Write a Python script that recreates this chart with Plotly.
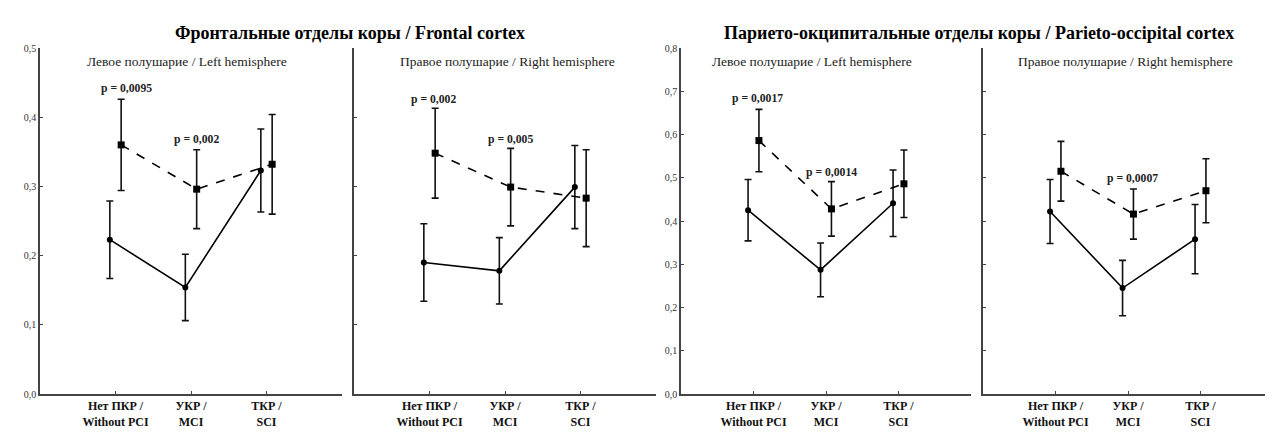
import plotly.graph_objects as go

# ---------------- data ----------------
categories = ["Нет ПКР /<br>Without PCI", "УКР /<br>MCI", "ТКР /<br>SCI"]
cat_pos = [1, 2, 3]

# solid line, circles
frontal_left_solid = [0.223, 0.154, 0.323]
frontal_left_solid_err = [0.056, 0.048, 0.060]
frontal_right_solid = [0.190, 0.178, 0.299]
frontal_right_solid_err = [0.056, 0.048, 0.060]
pariet_left_solid = [0.425, 0.287, 0.441]
pariet_left_solid_err = [0.071, 0.062, 0.077]
pariet_right_solid = [0.422, 0.245, 0.358]
pariet_right_solid_err = [0.074, 0.064, 0.080]

# dashed line, squares
frontal_left_dash = [0.360, 0.296, 0.332]
frontal_left_dash_err = [0.066, 0.057, 0.072]
frontal_right_dash = [0.348, 0.299, 0.283]
frontal_right_dash_err = [0.065, 0.056, 0.070]
pariet_left_dash = [0.586, 0.428, 0.486]
pariet_left_dash_err = [0.072, 0.063, 0.078]
pariet_right_dash = [0.515, 0.416, 0.470]
pariet_right_dash_err = [0.069, 0.058, 0.074]

titles = ["Фронтальные отделы коры / Frontal cortex",
          "Парието-окципитальные отделы коры / Parieto-occipital cortex"]
subtitles = ["Левое полушарие / Left hemisphere", "Правое полушарие / Right hemisphere",
             "Левое полушарие / Left hemisphere", "Правое полушарие / Right hemisphere"]

# p-value labels: (panel, text, x, y)
p_labels = [
    (0, "p = 0,0095", 1.14, 0.441),
    (0, "p = 0,002", 2.07, 0.368),
    (1, "p = 0,002", 1.05, 0.426),
    (1, "p = 0,005", 2.07, 0.368),
    (2, "p = 0,0017", 1.05, 0.683),
    (2, "p = 0,0014", 2.07, 0.513),
    (3, "p = 0,0007", 2.06, 0.498),
]

panels = [
    (frontal_left_solid, frontal_left_solid_err, frontal_left_dash, frontal_left_dash_err, 0.5),
    (frontal_right_solid, frontal_right_solid_err, frontal_right_dash, frontal_right_dash_err, 0.5),
    (pariet_left_solid, pariet_left_solid_err, pariet_left_dash, pariet_left_dash_err, 0.8),
    (pariet_right_solid, pariet_right_solid_err, pariet_right_dash, pariet_right_dash_err, 0.8),
]

# ---------------- layout geometry (page pixels; page body has an 8px margin) ----------------
PAGE_OFF = 8
W, H = 1273 - PAGE_OFF, 437 - PAGE_OFF


def fx(px):
    return (px - PAGE_OFF) / W


def fy(py):
    return 1 - (py - PAGE_OFF) / H


px_x = [(40, 342), (354, 656), (681, 971), (983, 1273)]
y_top, y_bot = 48, 394
sub_x = [187, 507, 812, 1125]
sub_y = 62
title_x = [350, 979]
title_y = 33
off = 0.075

FONT = "Liberation Serif, Times New Roman, serif"
fig = go.Figure()

for i, (s, se, d, de, ymax) in enumerate(panels):
    xa = "x" if i == 0 else f"x{i+1}"
    ya = "y" if i == 0 else f"y{i+1}"
    fig.add_trace(go.Scatter(
        x=[c - off for c in cat_pos], y=s, xaxis=xa, yaxis=ya, mode="lines+markers",
        line=dict(color="black", width=1.6),
        marker=dict(symbol="circle", size=6, color="black"),
        error_y=dict(type="data", array=se, visible=True, color="#111", thickness=1.6, width=3.5),
        showlegend=False, hoverinfo="skip"))
    fig.add_trace(go.Scatter(
        x=[c + off for c in cat_pos], y=d, xaxis=xa, yaxis=ya, mode="lines+markers",
        line=dict(color="black", width=1.6, dash="dash"),
        marker=dict(symbol="square", size=7, color="black"),
        error_y=dict(type="data", array=de, visible=True, color="#111", thickness=1.6, width=3.5),
        showlegend=False, hoverinfo="skip"))

    x0, x1 = px_x[i]
    axis_common = dict(showline=True, linecolor="#444", linewidth=1.5, ticks="inside",
                       ticklen=3, tickcolor="#444", showgrid=False, zeroline=False)
    fig.layout[f"xaxis{'' if i == 0 else i+1}"] = dict(
        domain=[fx(x0), min(1.0, fx(x1))], anchor=ya, range=[0, 4],
        tickvals=cat_pos, ticktext=[f"<b>{c}</b>" for c in categories],
        tickfont=dict(family=FONT, size=12, color="#111"), **axis_common)
    fig.layout[f"yaxis{'' if i == 0 else i+1}"] = dict(
        domain=[fy(y_bot), fy(y_top)], anchor=xa, range=[0, ymax],
        dtick=0.1, tickformat=".1f", showticklabels=(i % 2 == 0),
        tickfont=dict(family=FONT, size=10, color="#333"), **axis_common)

annotations = []
for i, t in enumerate(subtitles):
    annotations.append(dict(text=t, x=fx(sub_x[i]), y=fy(sub_y), xref="paper", yref="paper",
                            showarrow=False, font=dict(family=FONT, size=13.5, color="#222"),
                            xanchor="center", yanchor="middle"))
for k in range(2):
    annotations.append(dict(text="<b>" + titles[k] + "</b>", x=fx(title_x[k]), y=fy(title_y),
                            xref="paper", yref="paper", showarrow=False,
                            font=dict(family=FONT, size=18, color="black"),
                            xanchor="center", yanchor="middle"))
for (pi, txt, px, py) in p_labels:
    annotations.append(dict(text=f"<b>{txt}</b>", x=px, y=py,
                            xref="x" if pi == 0 else f"x{pi+1}",
                            yref="y" if pi == 0 else f"y{pi+1}",
                            showarrow=False, font=dict(family=FONT, size=11.7, color="#222"),
                            xanchor="center", yanchor="middle"))

fig.update_layout(width=W, height=H, margin=dict(l=0, r=0, t=0, b=0, autoexpand=False),
                  paper_bgcolor="white", plot_bgcolor="white", separators=", ",
                  annotations=annotations, showlegend=False)

fig.write_html("out.html")
